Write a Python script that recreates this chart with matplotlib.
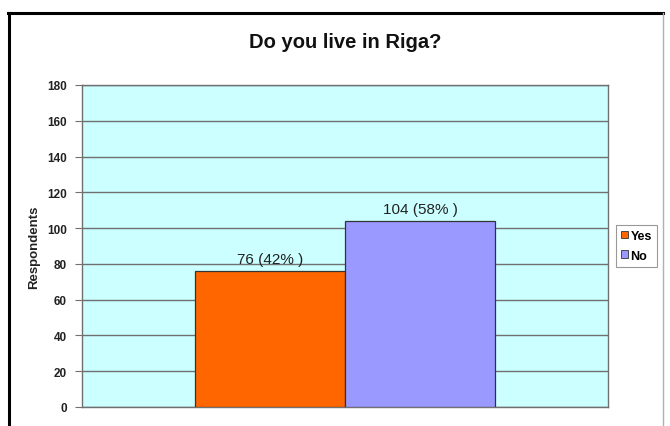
import matplotlib
matplotlib.use("Agg")
import matplotlib.pyplot as plt
from matplotlib.lines import Line2D
from matplotlib.patches import Patch

categories = ["Yes", "No"]
counts = [76, 104]
percents = [42, 58]
colors = ["#FF6600", "#9999FF"]
yticks = [0, 20, 40, 60, 80, 100, 120, 140, 160, 180]

plt.rcParams["font.family"] = ["Liberation Sans", "DejaVu Sans"]

W, H = 670, 427
fig = plt.figure(figsize=(W / 100, H / 100), dpi=100)
fig.patch.set_facecolor("white")

# outer chart frame
fig.add_artist(Line2D([9 / W, 9 / W], [0, 1 - 14 / H], color="black", lw=2.2, transform=fig.transFigure))
fig.add_artist(Line2D([8 / W, 663 / W], [1 - 14 / H, 1 - 14 / H], color="black", lw=2.2, transform=fig.transFigure))
fig.add_artist(Line2D([663 / W, 663 / W], [0, 1 - 14 / H], color="#b0b0b0", lw=1, transform=fig.transFigure))

ax = fig.add_axes([82 / W, 1 - 408 / H, (608 - 82) / W, (408 - 86) / H])
ax.set_facecolor("#CCFFFF")

xs = [-0.5, 0.5]
bars = ax.bar(xs, counts, width=1.0, color=colors, edgecolor="#333333", linewidth=0.9, zorder=3)
for x, c, p in zip(xs, counts, percents):
    ax.text(x, c + 3, f"{c} ({p}% )", ha="center", va="bottom", fontsize=11,
            color="#222222", zorder=4)

ax.set_xlim(-263 / 150, 263 / 150)
ax.set_ylim(0, 180)
ax.set_yticks(yticks)
ax.set_yticklabels([str(t) for t in yticks], fontsize=8.5, fontweight="bold", color="#222222")
ax.set_xticks([])
ax.tick_params(axis="y", length=5, width=0.8, color="#707070", pad=6, direction="out")
ax.grid(axis="y", color="#707070", lw=1.0, zorder=1)
for s in ax.spines.values():
    s.set_color("#707070")
    s.set_linewidth(1.0)

ax.set_ylabel("Respondents", fontsize=9.5, fontweight="bold", color="#222222", labelpad=5)
fig.text(345 / W, 1 - 42 / H, "Do you live in Riga?", ha="center", va="center",
         fontsize=14.5, fontweight="bold", color="#111111")

handles = [Patch(facecolor=col, edgecolor="#333333", linewidth=0.6) for col in colors]
leg = fig.legend(handles, categories, loc="upper left", bbox_to_anchor=(616 / W, 1 - 226 / H),
                 prop={"weight": "bold", "size": 9}, frameon=True, fancybox=False,
                 handlelength=0.55, handleheight=0.55, handletextpad=0.2, borderpad=0.4,
                 labelspacing=0.6, borderaxespad=0)
leg.get_frame().set_edgecolor("#808080")
leg.get_frame().set_linewidth(0.8)

fig.savefig("out.png", dpi=100)
